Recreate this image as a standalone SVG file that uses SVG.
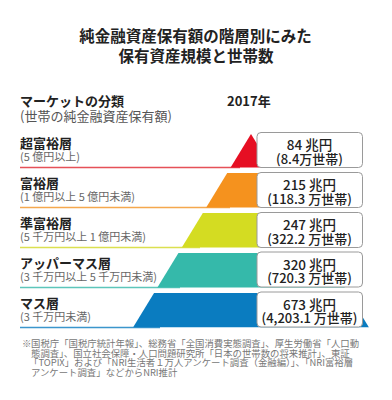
<svg xmlns="http://www.w3.org/2000/svg" width="392" height="400" viewBox="0 0 392 400">
<style>
text{font-family:"Noto Sans CJK JP","Noto Sans",sans-serif;}
.title{font-size:15.5px;font-weight:bold;fill:#222;text-anchor:middle;}
.head{font-size:13px;font-weight:bold;fill:#222;}
.sub{font-size:13px;fill:#555;}
.lbl{font-size:13px;font-weight:bold;fill:#222;}
.sl{font-size:11px;fill:#666;}
.box{fill:#fff;stroke:#9a9a9a;stroke-width:1;}
.v1{font-size:13.5px;font-weight:500;fill:#222;text-anchor:middle;}
.v2{font-size:13px;font-weight:500;fill:#222;text-anchor:middle;}
.note{font-size:9.4px;fill:#777;}
.sep{stroke-width:1.5;opacity:0.8;}
</style>
<defs>
<clipPath id="pyr"><polygon points="251,134 133,327.5 369,327.5"/></clipPath>
</defs>
<rect width="392" height="400" fill="#fff"/>
<g id="title">
<text class="title" x="195.5" y="42">純金融資産保有額の階層別にみた</text>
<text class="title" x="196" y="62">保有資産規模と世帯数</text>
</g>
<g id="header">
<text class="head" x="20" y="106">マーケットの分類</text>
<text class="sub" x="20" y="120.5">(世帯の純金融資産保有額)</text>
<text class="head" x="227" y="105.5">2017年</text>
</g>
<g id="connectors">
<line class="sep" x1="20" y1="167.5" x2="240" y2="167.5" stroke="#e0262f"/>
<line class="sep" x1="20" y1="207.5" x2="230" y2="207.5" stroke="#f39322"/>
<line class="sep" x1="20" y1="247.5" x2="200" y2="247.5" stroke="#d3d925"/>
<line class="sep" x1="20" y1="287.5" x2="180" y2="287.5" stroke="#35b8aa"/>
<line class="sep" x1="20" y1="327.5" x2="160" y2="327.5" stroke="#0b7cc0"/>
</g>
<g id="pyramid" clip-path="url(#pyr)">
<rect x="120" y="130" width="260" height="37.5" fill="#e60f23"/>
<rect x="120" y="173" width="260" height="34.5" fill="#f5921e"/>
<rect x="120" y="213" width="260" height="34.5" fill="#d4dc22"/>
<rect x="120" y="253" width="260" height="34.5" fill="#35b9aa"/>
<rect x="120" y="293" width="260" height="34.5" fill="#0a7cc0"/>
</g>
<g id="tier1">
<text class="lbl" x="20" y="148">超富裕層</text>
<text class="sl" x="20" y="161">(5 億円以上)</text>
<rect class="box" x="257" y="132.5" width="105.5" height="35" rx="4"/>
<text class="v1" x="309.5" y="150">84 兆円</text>
<text class="v2" x="309.5" y="163.5">(8.4万世帯)</text>
</g>
<g id="tier2">
<text class="lbl" x="20" y="188">富裕層</text>
<text class="sl" x="20" y="201">(1 億円以上 5 億円未満)</text>
<rect class="box" x="257" y="172.5" width="105.5" height="35" rx="4"/>
<text class="v1" x="309.5" y="190">215 兆円</text>
<text class="v2" x="309.5" y="203.5">(118.3 万世帯)</text>
</g>
<g id="tier3">
<text class="lbl" x="20" y="228">準富裕層</text>
<text class="sl" x="20" y="241">(5 千万円以上 1 億円未満)</text>
<rect class="box" x="257" y="212.5" width="105.5" height="35" rx="4"/>
<text class="v1" x="309.5" y="230">247 兆円</text>
<text class="v2" x="309.5" y="243.5">(322.2 万世帯)</text>
</g>
<g id="tier4">
<text class="lbl" x="20" y="267.5">アッパーマス層</text>
<text class="sl" x="20" y="281">(3 千万円以上 5 千万円未満)</text>
<rect class="box" x="257" y="252" width="105.5" height="35" rx="4"/>
<text class="v1" x="309.5" y="269.5">320 兆円</text>
<text class="v2" x="309.5" y="283">(720.3 万世帯)</text>
</g>
<g id="tier5">
<text class="lbl" x="20" y="307.5">マス層</text>
<text class="sl" x="20" y="321">(3 千万円未満)</text>
<rect class="box" x="257" y="292" width="105.5" height="35" rx="4"/>
<text class="v1" x="309.5" y="309.5">673 兆円</text>
<text class="v2" x="309.5" y="323">(4,203.1 万世帯)</text>
</g>
<g id="footnote">
<text class="note" x="22" y="347">※</text>
<text class="note" x="31" y="347">国税庁「国税庁統計年報」、総務省「全国消費実態調査」、厚生労働省「人口動</text>
<text class="note" x="31" y="356.7">態調査」、国立社会保障・人口問題研究所「日本の世帯数の将来推計」、東証</text>
<text class="note" x="29" y="366.4">「TOPIX」および「NRI生活者１万人アンケート調査（金融編）」、「NRI富裕層</text>
<text class="note" x="31" y="376">アンケート調査」などからNRI推計</text>
</g>
</svg>
